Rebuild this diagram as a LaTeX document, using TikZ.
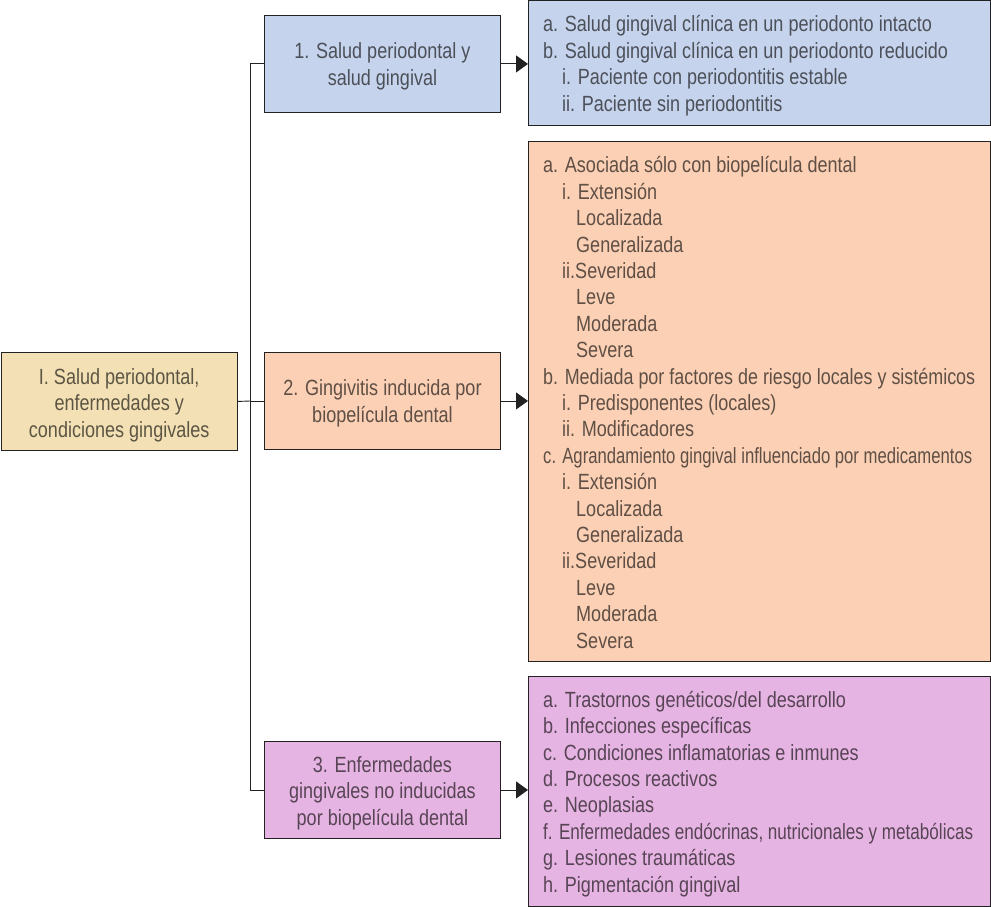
\documentclass[tikz,border=0pt]{standalone}
\usepackage{graphicx}
\usepackage{fontspec}
\setmainfont{Liberation Sans}[FakeStretch=0.82]
\usetikzlibrary{arrows.meta}
\definecolor{cblue}{HTML}{C6D3EC}
\definecolor{cpeach}{HTML}{FBD0B5}
\definecolor{cbeige}{HTML}{F3E1B5}
\definecolor{cpink}{HTML}{E6B4E2}
\definecolor{cline}{HTML}{222222}
\newcommand\indA{\hspace*{19pt}}
\newcommand\indB{\hspace*{33pt}}
\newcommand\fitline[1]{\resizebox{429pt}{\height}{#1}}
\begin{document}
\begin{tikzpicture}[x=1pt,y=-1pt,
  every node/.style={font=\fontsize{22}{26.4}\selectfont, text=black, text opacity=0.62},
  catbox/.style={draw=cline, line width=0.9pt, rectangle, inner sep=0pt,
    anchor=north west, minimum width=236pt, minimum height=97pt},
  cattext/.style={align=center, inner sep=0pt},
  listbox/.style={draw=cline, line width=0.9pt, rectangle, inner sep=0pt,
    anchor=north west, minimum width=462pt},
  listtext/.style={anchor=west, align=left, inner sep=0pt},
  link/.style={draw=cline, line width=0.9pt},
  arr/.style={link, -{Triangle[length=12pt,width=17pt]}}]
\useasboundingbox (0,0) rectangle (991,907);

\node[catbox, fill=cbeige, minimum width=236.5pt, minimum height=98pt] (root) at (0.5,352) {};
\node[catbox, fill=cblue] (b1) at (264,15) {};
\node[catbox, fill=cpeach] (b2) at (264,352) {};
\node[catbox, fill=cpink] (b3) at (264,741) {};

\node[cattext] (troot) at ([yshift=-3.5pt]root.center) {I. Salud periodontal,\\enfermedades y\\condiciones gingivales};
\node[cattext] (t1) at ([yshift=-2.5pt]b1.center) {1. Salud periodontal y\\salud gingival};
\node[cattext] (t2) at ([yshift=-2.5pt]b2.center) {2. Gingivitis inducida por\\biopelícula dental};
\node[cattext] (t3) at ([yshift=-3pt]b3.center) {3. Enfermedades\\gingivales no inducidas\\por biopelícula dental};

\node[listbox, fill=cblue, minimum height=124.5pt] (ra) at (528,0.5) {};
\node[listbox, fill=cpeach, minimum height=520pt] (rb) at (528,141) {};
\node[listbox, fill=cpink, minimum height=230pt] (rc) at (528,676) {};

\node[listtext] (ta) at ([xshift=15pt,yshift=-2.5pt]ra.west) {%
a. Salud gingival clínica en un periodonto intacto\\
b. Salud gingival clínica en un periodonto reducido\\
\indA i. Paciente con periodontitis estable\\
\indA ii. Paciente sin periodontitis};

\node[listtext] (tb) at ([xshift=15pt,yshift=-1pt]rb.west) {%
a. Asociada sólo con biopelícula dental\\
\indA i. Extensión\\
\indB Localizada\\
\indB Generalizada\\
\indA ii.Severidad\\
\indB Leve\\
\indB Moderada\\
\indB Severa\\
\resizebox{432pt}{\height}{b. Mediada por factores de riesgo locales y sistémicos}\\
\indA i. Predisponentes (locales)\\
\indA ii. Modificadores\\
\fitline{c. Agrandamiento gingival influenciado por medicamentos}\\
\indA i. Extensión\\
\indB Localizada\\
\indB Generalizada\\
\indA ii.Severidad\\
\indB Leve\\
\indB Moderada\\
\indB Severa};

\node[listtext] (tc) at ([xshift=15pt,yshift=-2.5pt]rc.west) {%
a. Trastornos genéticos/del desarrollo\\
b. Infecciones específicas\\
c. Condiciones inflamatorias e inmunes\\
d. Procesos reactivos\\
e. Neoplasias\\
\resizebox{430pt}{\height}{f. Enfermedades endócrinas, nutricionales y metabólicas}\\
g. Lesiones traumáticas\\
h. Pigmentación gingival};

\coordinate (j) at (250,401);
\draw[link] (root.east) -- (j);
\draw[link] (b1.west) -| (j);
\draw[link] (b3.west) -| (j);
\draw[link] (b2.west) -- (b2.west -| j);

\draw[arr] (b1.east) -- (b1.east -| ra.west);
\draw[arr] (b2.east) -- (b2.east -| rb.west);
\draw[arr] (b3.east) -- (b3.east -| rc.west);
\end{tikzpicture}
\end{document}
